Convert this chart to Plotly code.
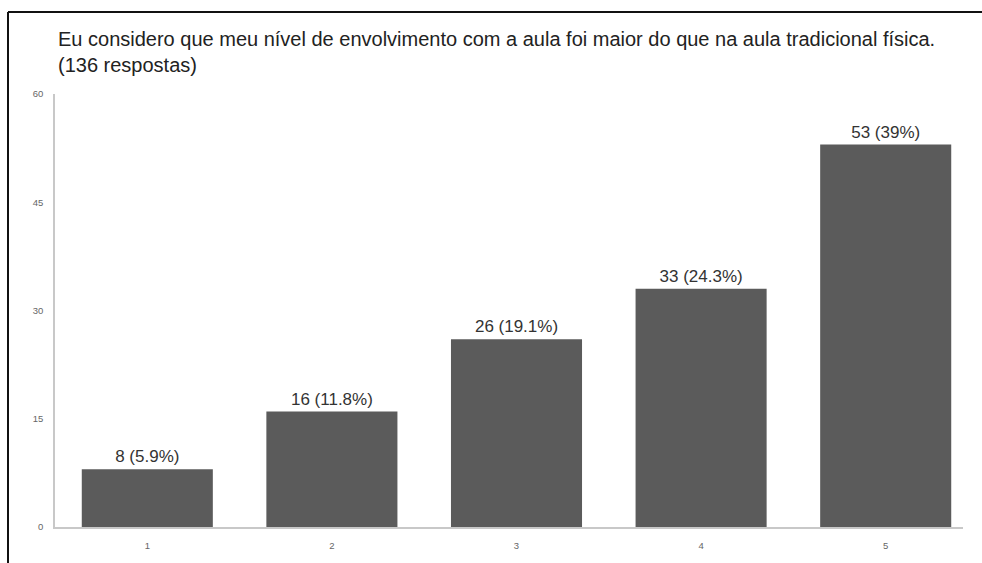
import plotly.graph_objects as go

# Survey responses on a 1-5 agreement scale
categories = [1, 2, 3, 4, 5]
counts = [8, 16, 26, 33, 53]
percent_labels = ["5.9%", "11.8%", "19.1%", "24.3%", "39%"]
y_ticks = [0, 15, 30, 45, 60]
title_text = ("Eu considero que meu nível de envolvimento com a aula foi maior do que na aula tradicional física."
              "<br>(136 respostas)")

W, H = 982, 563
ML, MR, MT, MB = 55, 19, 94, 31
plot_w = W - ML - MR
plot_h = H - MT - MB


def px_to_paper_x(px):
    return (px - ML) / plot_w


def px_to_paper_y(py):
    return (H - MB - py) / plot_h


bar_labels = [f"{c} ({p})" for c, p in zip(counts, percent_labels)]

fig = go.Figure(
    go.Bar(
        x=categories,
        y=counts,
        width=0.71,
        marker=dict(color="#5b5b5b", line=dict(width=0)),
        text=bar_labels,
        textposition="outside",
        cliponaxis=False,
        textfont=dict(family="Liberation Sans, Arial, sans-serif", size=17, color="#333333"),
        hoverinfo="skip",
    )
)

fig.update_layout(
    width=W,
    height=H,
    margin=dict(l=ML, r=MR, t=MT, b=MB),
    paper_bgcolor="white",
    plot_bgcolor="white",
    showlegend=False,
    font=dict(family="Liberation Sans, Arial, sans-serif"),
    xaxis=dict(
        range=[0.5, 0.5 + plot_w / 184.6],
        tickmode="array",
        tickvals=categories,
        ticktext=[str(c) for c in categories],
        tickfont=dict(size=9.5, color="#666666"),
        showgrid=False,
        zeroline=False,
        showline=True,
        linecolor="#c8c8c8",
        linewidth=1.5,
        ticks="",
        ticklabelstandoff=9,
    ),
    yaxis=dict(
        range=[0, 60],
        tickmode="array",
        tickvals=y_ticks,
        ticktext=[str(v) for v in y_ticks],
        tickfont=dict(size=9.5, color="#666666"),
        showgrid=False,
        zeroline=False,
        showline=True,
        linecolor="#c8c8c8",
        linewidth=1.5,
        ticks="",
        ticklabelstandoff=8,
    ),
    annotations=[
        dict(
            text=title_text,
            xref="paper",
            yref="paper",
            x=px_to_paper_x(56),
            y=px_to_paper_y(25),
            xanchor="left",
            yanchor="top",
            align="left",
            showarrow=False,
            font=dict(family="Liberation Sans, Arial, sans-serif", size=20, color="#222222"),
        )
    ],
    shapes=[
        # outer frame: top and left edges
        dict(type="line", xref="paper", yref="paper",
             x0=px_to_paper_x(8), x1=px_to_paper_x(990),
             y0=px_to_paper_y(11), y1=px_to_paper_y(11),
             line=dict(color="#111111", width=2)),
        dict(type="line", xref="paper", yref="paper",
             x0=px_to_paper_x(8), x1=px_to_paper_x(8),
             y0=px_to_paper_y(11), y1=px_to_paper_y(570),
             line=dict(color="#111111", width=2)),
    ],
)

fig.write_html("out.html")
